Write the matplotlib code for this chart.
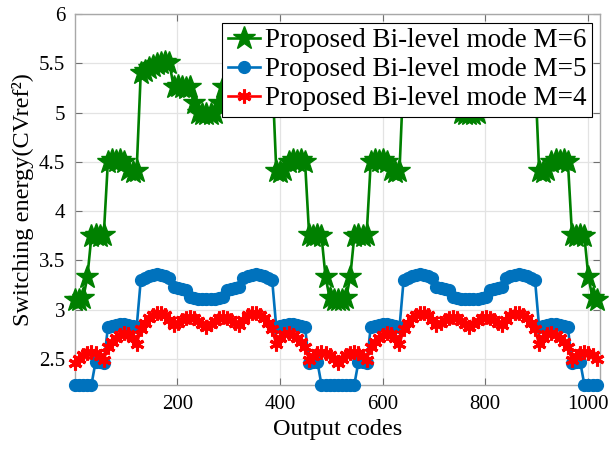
import numpy as np
import matplotlib
matplotlib.use("Agg")
import matplotlib.pyplot as plt
from matplotlib.ticker import FormatStrFormatter

# Output codes, sampled every 8 codes
codes = np.arange(1, 1024, 8)

# Switching energy, proposed bi-level mode, M = 6
energy_m6 = [
    3.10, 3.10, 3.12, 3.33, 3.75, 3.76, 3.75, 3.76,
    4.50, 4.52, 4.51, 4.52, 4.50, 4.42, 4.40, 4.41,
    5.40, 5.42, 5.45, 5.47, 5.49, 5.50, 5.51, 5.50,
    5.26, 5.27, 5.26, 5.25, 5.26, 5.10, 4.99, 4.98,
    4.98, 4.98, 4.99, 5.10, 5.26, 5.25, 5.26, 5.27,
    5.26, 5.50, 5.51, 5.50, 5.49, 5.47, 5.45, 5.42,
    5.40, 4.41, 4.40, 4.42, 4.50, 4.52, 4.51, 4.52,
    4.50, 3.76, 3.75, 3.76, 3.75, 3.33, 3.12, 3.10,
    3.10, 3.10, 3.12, 3.33, 3.75, 3.76, 3.75, 3.76,
    4.50, 4.52, 4.51, 4.52, 4.50, 4.42, 4.40, 4.41,
    5.40, 5.42, 5.45, 5.47, 5.49, 5.50, 5.51, 5.50,
    5.26, 5.27, 5.26, 5.25, 5.26, 5.10, 4.99, 4.98,
    4.98, 4.98, 4.99, 5.10, 5.26, 5.25, 5.26, 5.27,
    5.26, 5.50, 5.51, 5.50, 5.49, 5.47, 5.45, 5.42,
    5.40, 4.41, 4.40, 4.42, 4.50, 4.52, 4.51, 4.52,
    4.50, 3.76, 3.75, 3.76, 3.75, 3.33, 3.12, 3.10,
]

# Switching energy, proposed bi-level mode, M = 5
energy_m5 = [
    2.24, 2.24, 2.24, 2.24, 2.24, 2.47, 2.47, 2.46,
    2.82, 2.83, 2.84, 2.85, 2.85, 2.84, 2.83, 2.82,
    3.30, 3.32, 3.34, 3.35, 3.36, 3.35, 3.34, 3.32,
    3.23, 3.22, 3.21, 3.20, 3.13, 3.12, 3.11, 3.11,
    3.11, 3.11, 3.11, 3.12, 3.13, 3.20, 3.21, 3.22,
    3.23, 3.32, 3.34, 3.35, 3.36, 3.35, 3.34, 3.32,
    3.30, 2.82, 2.83, 2.84, 2.85, 2.85, 2.84, 2.83,
    2.82, 2.46, 2.47, 2.47, 2.24, 2.24, 2.24, 2.24,
    2.24, 2.24, 2.24, 2.24, 2.24, 2.47, 2.47, 2.46,
    2.82, 2.83, 2.84, 2.85, 2.85, 2.84, 2.83, 2.82,
    3.30, 3.32, 3.34, 3.35, 3.36, 3.35, 3.34, 3.32,
    3.23, 3.22, 3.21, 3.20, 3.13, 3.12, 3.11, 3.11,
    3.11, 3.11, 3.11, 3.12, 3.13, 3.20, 3.21, 3.22,
    3.23, 3.32, 3.34, 3.35, 3.36, 3.35, 3.34, 3.32,
    3.30, 2.82, 2.83, 2.84, 2.85, 2.85, 2.84, 2.83,
    2.82, 2.46, 2.47, 2.47, 2.24, 2.24, 2.24, 2.24,
]

# Switching energy, proposed bi-level mode, M = 4
energy_m4 = [
    2.46, 2.50, 2.54, 2.56, 2.57, 2.56, 2.53, 2.49,
    2.62, 2.67, 2.71, 2.74, 2.76, 2.75, 2.71, 2.65,
    2.80, 2.87, 2.92, 2.95, 2.97, 2.97, 2.95, 2.90,
    2.84, 2.87, 2.90, 2.92, 2.93, 2.92, 2.89, 2.85,
    2.82, 2.85, 2.89, 2.92, 2.93, 2.92, 2.90, 2.87,
    2.84, 2.90, 2.95, 2.97, 2.97, 2.95, 2.92, 2.87,
    2.80, 2.65, 2.71, 2.75, 2.76, 2.74, 2.71, 2.67,
    2.62, 2.49, 2.53, 2.56, 2.57, 2.56, 2.54, 2.50,
    2.46, 2.50, 2.54, 2.56, 2.57, 2.56, 2.53, 2.49,
    2.62, 2.67, 2.71, 2.74, 2.76, 2.75, 2.71, 2.65,
    2.80, 2.87, 2.92, 2.95, 2.97, 2.97, 2.95, 2.90,
    2.84, 2.87, 2.90, 2.92, 2.93, 2.92, 2.89, 2.85,
    2.82, 2.85, 2.89, 2.92, 2.93, 2.92, 2.90, 2.87,
    2.84, 2.90, 2.95, 2.97, 2.97, 2.95, 2.92, 2.87,
    2.80, 2.65, 2.71, 2.75, 2.76, 2.74, 2.71, 2.67,
    2.62, 2.49, 2.53, 2.56, 2.57, 2.56, 2.54, 2.50,
]

labels = ["Proposed Bi-level mode M=6",
          "Proposed Bi-level mode M=5",
          "Proposed Bi-level mode M=4"]
x_ticks = [200, 400, 600, 800, 1000]
y_ticks = [2.5, 3, 3.5, 4, 4.5, 5, 5.5, 6]

plt.rcParams["font.family"] = ["Liberation Serif", "DejaVu Serif"]

fig = plt.figure(figsize=(6.10, 4.49), dpi=100)
ax = fig.add_axes([0.123, 0.1425, 0.861, 0.8265])

ax.plot(codes, energy_m6, color="#008000", lw=1.9, marker="*", ms=17,
        markeredgecolor="#008000", label=labels[0], clip_on=False, zorder=3)
ax.plot(codes, energy_m5, color="#0072BD", lw=1.9, marker="o", ms=8.5,
        markeredgecolor="#0072BD", label=labels[1], clip_on=False, zorder=4)
ax.plot(codes, energy_m4, color="#FF0000", lw=1.9, marker=(6, 2, 0), ms=10,
        mew=2.2, markeredgecolor="#FF0000", label=labels[2], clip_on=False,
        zorder=5)

ax.set_xlim(1, 1024)
ax.set_ylim(2.236, 6.0)
ax.set_xticks(x_ticks)
ax.set_yticks(y_ticks)
ax.yaxis.set_major_formatter(FormatStrFormatter("%g"))
ax.grid(True, color="#e3e3e3", lw=0.9)
ax.set_axisbelow(True)
ax.tick_params(direction="in", length=5, width=0.8, color="#707070",
               labelsize=15, top=True, right=True, pad=7)
for sp in ax.spines.values():
    sp.set_color("#a8a8a8")
    sp.set_linewidth(1.0)

ax.set_xlabel("Output codes", fontsize=17.5, labelpad=4)
ax.set_ylabel("Switching energy(CVref\u00b2)", fontsize=17.5, labelpad=4)

leg = ax.legend(loc="upper right", bbox_to_anchor=(0.985, 0.976),
                borderaxespad=0, fontsize=19.5, frameon=True, fancybox=False,
                framealpha=1.0, handlelength=1.2, handletextpad=0.2,
                borderpad=0.2, labelspacing=0.15)
leg.get_frame().set_edgecolor("black")
leg.get_frame().set_linewidth(0.8)
leg.set_zorder(10)

fig.savefig("out.png", dpi=100)
